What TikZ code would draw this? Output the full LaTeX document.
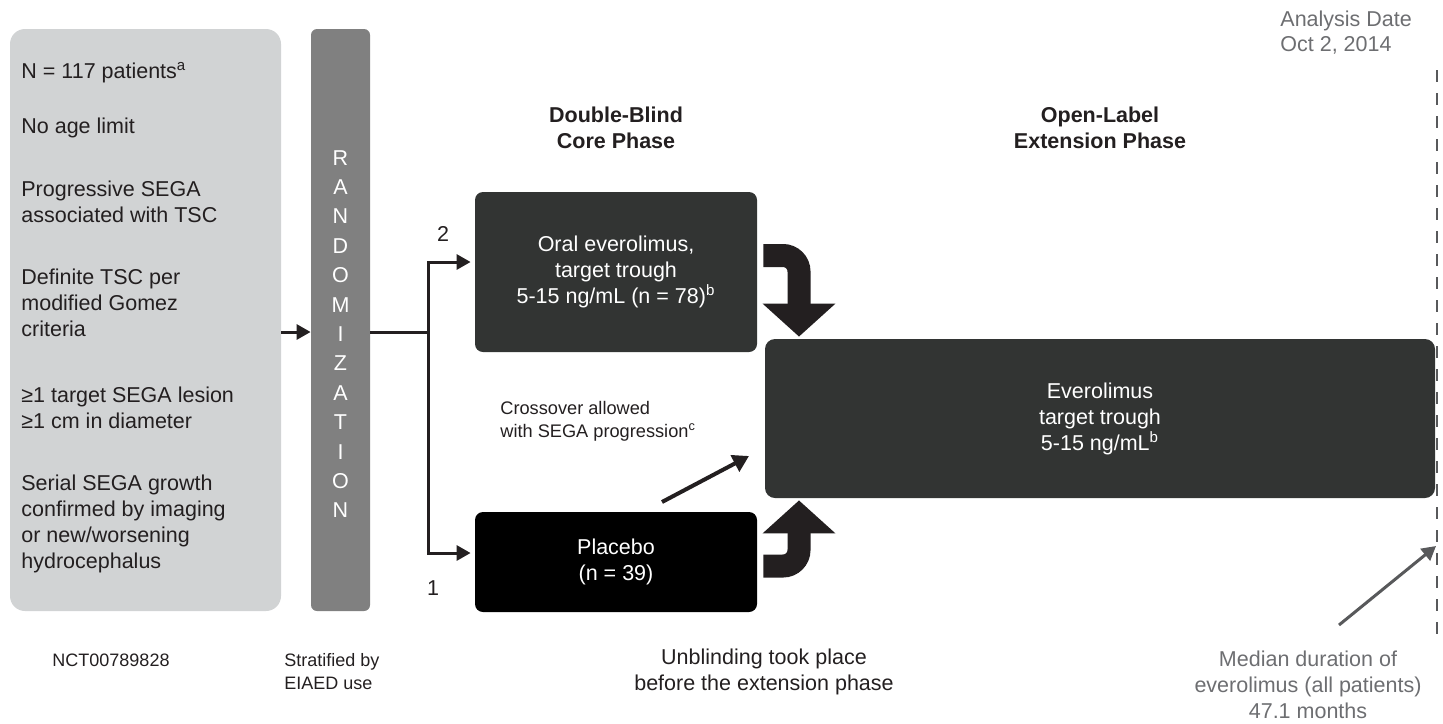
\documentclass[tikz,border=0pt]{standalone}
\usepackage{fontspec}
\setmainfont{Liberation Sans}
\usepackage{tikz}
\usetikzlibrary{positioning}
\usetikzlibrary{arrows.meta}
\definecolor{inkblack}{HTML}{231F20}
\definecolor{critgrey}{HTML}{D1D3D4}
\definecolor{randgrey}{HTML}{808080}
\definecolor{armdark}{HTML}{323433}
\definecolor{notegrey}{HTML}{6D6E71}
\definecolor{cutgrey}{HTML}{58595B}
\tikzset{basic/.style={font=\fontsize{10.75}{13}\selectfont,text=inkblack}}
\tikzset{small/.style={font=\fontsize{9}{11.5}\selectfont,text=inkblack}}
\tikzset{crit/.style={basic,anchor=west,align=left,inner sep=0pt}}
\tikzset{arm/.style={basic,text=white,align=center,rounded corners=4pt,minimum width=141pt}}
\tikzset{title/.style={basic,font=\fontsize{10.75}{13}\selectfont\bfseries,align=center}}
\tikzset{note/.style={basic,text=notegrey,align=center}}
\tikzset{link/.style={draw=inkblack,line width=1.5pt,-{Triangle[length=7pt,width=7.5pt]}}}
\tikzset{bendarrow/.style={draw=inkblack,line width=11.5pt,rounded corners=8pt,-{Triangle[length=16.5pt,width=35.5pt]}}}

\begin{document}
\begin{tikzpicture}[x=0.5pt,y=-0.5pt]
		\useasboundingbox (0,0) rectangle (1443,723);

		% inclusion criteria and randomization bar
		\node[fill=critgrey,rounded corners=7.5pt,minimum width=135.5pt,minimum height=291pt](inc) at (145.5,320){};
		\node[fill=randgrey,rounded corners=3pt,minimum width=29.5pt,minimum height=291pt](rand) at (340.5,320){};

		\node[crit](pop) at (21,73){N = 117 patients\textsuperscript{a}};
		\node[crit](age) at (21,128){No age limit};
		\node[crit](sega) at (21,201.5){Progressive SEGA\\associated with TSC};
		\node[crit](tsc) at (21,303){Definite TSC per\\modified Gomez\\criteria};
		\node[crit](lesion) at (21,407.5){≥1 target SEGA lesion\\≥1 cm in diameter};
		\node[crit](growth) at (21,524){Serial SEGA growth\\confirmed by imaging\\or new/worsening\\hydrocephalus};

		\node[basic,text=white,align=center,font=\fontsize{10.75}{14.7}\selectfont](randtxt) at (340.5,334){R\\A\\N\\D\\O\\M\\I\\Z\\A\\T\\I\\O\\N};

		% phase headings
		\node[title](core) at (616,128){Double-Blind\\Core Phase};
		\node[title](open) at (1100,128){Open-Label\\Extension Phase};

		% arms
		\node[arm,fill=armdark,minimum height=80pt](oral) at (616,272){Oral everolimus,\\target trough\\5-15 ng/mL (n = 78)\textsuperscript{b}};
		\node[arm,fill=black,minimum height=50pt](placebo) at (616,562){Placebo\\(n = 39)};
		\node[arm,fill=armdark,rounded corners=5pt,minimum width=335pt,minimum height=79.5pt](ext) at (1100,418.5){Everolimus\\target trough\\5-15 ng/mL\textsuperscript{b}};

		\node[basic](two) at (443,234){2};
		\node[basic](one) at (433,588){1};

		\node[basic,font=\fontsize{9.1}{11.5}\selectfont,anchor=west,align=left,inner sep=0pt](cross) at (500,421.5){Crossover allowed\\with SEGA progression\textsuperscript{c}};

		% randomization arrows
		\coordinate (split) at (428,332);
		\draw[link] (inc.east |- split) -- (rand.west |- split);
		\draw[draw=inkblack,line width=1.5pt] (rand.east |- split) -- (split);
		\draw[link,shorten >=2pt] (split) |- ([yshift=5pt]oral.west);
		\draw[link,shorten >=2pt] (split) |- ([yshift=4.5pt]placebo.west);

		% into the extension phase
		\coordinate (downbend) at (799,255.5);
		\coordinate (upbend) at (799,566);
		\draw[bendarrow,shorten >=1pt] ([xshift=3pt]oral.east |- downbend) -- (downbend) -- (downbend |- ext.north);
		\draw[bendarrow,shorten >=1pt] ([xshift=3pt]placebo.east |- upbend) -- (upbend) -- (upbend |- ext.south);

		\coordinate (crossfoot) at (662,502);
		\coordinate (crosstip) at (749,456);
		\draw[draw=inkblack,line width=2pt,-{Triangle[length=8pt,width=9pt]}] (crossfoot) -- (crosstip);

		% analysis cut-off
		\node[basic,text=notegrey,anchor=west,align=left,inner sep=0pt,font=\fontsize{10.75}{12.5}\selectfont](date) at (1280,32.5){Analysis Date\\Oct 2, 2014};
		\coordinate (cuttop) at (1437,70);
		\coordinate (cutbot) at (1437,640);
		\draw[cutgrey,line width=1pt,dash pattern=on 6pt off 5.5pt] (cuttop) -- (cutbot);

		\node[note](median) at (1308,685){Median duration of\\everolimus (all patients)\\47.1 months};
		\coordinate (medfoot) at (1339,625);
		\coordinate (medtip) at (1436,546);
		\draw[draw=cutgrey,line width=1.5pt,-{Triangle[length=7pt,width=7.5pt]}] (medfoot) -- (medtip);

		% footnotes
		\node[small](nct) at (111,660){NCT00789828};
		\node[small,anchor=west,align=left,inner sep=0pt](strat) at (284,671.5){Stratified by\\EIAED use};
		\node[basic,align=center](unblind) at (764,672){Unblinding took place\\before the extension phase};
	\end{tikzpicture}
\end{document}
